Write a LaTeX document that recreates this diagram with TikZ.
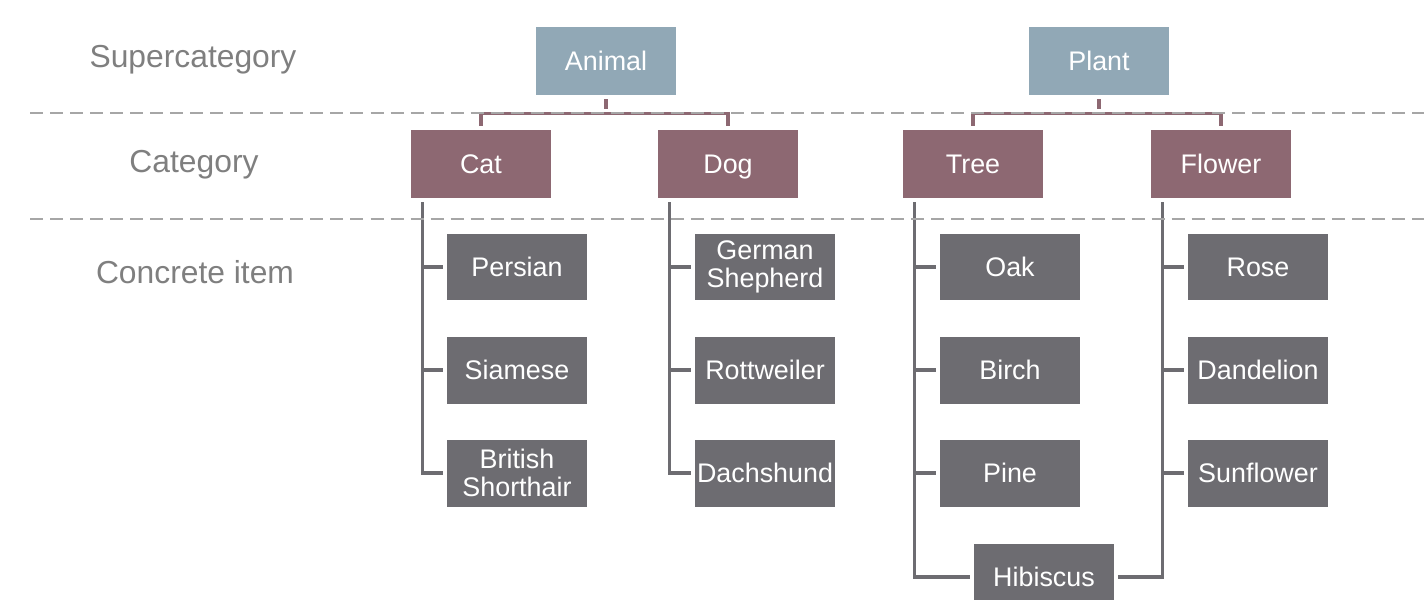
\documentclass[tikz,border=0pt]{standalone}
\usepackage{fontspec}
\setmainfont{Liberation Sans}
\usetikzlibrary{calc}
\definecolor{supercol}{HTML}{91A8B6}
\definecolor{catcol}{HTML}{8D6872}
\definecolor{itemcol}{HTML}{6D6C71}
\definecolor{dashcol}{HTML}{A6A6A6}
\definecolor{levelcol}{HTML}{7F7F7F}

\begin{document}
\begin{tikzpicture}[x=0.02cm,y=0.02cm,
  box/.style={rectangle,minimum width=2.8cm,minimum height=1.36cm,inner sep=0pt,
    text=white,align=center,font=\fontsize{15.3}{16}\selectfont},
  superbox/.style={box,fill=supercol,text height=11pt,text depth=0pt},
  catbox/.style={box,fill=catcol,text height=11pt,text depth=0pt},
  itembox/.style={box,fill=itemcol,minimum height=1.34cm},
  level/.style={anchor=base,text=levelcol,font=\fontsize{18.1}{20}\selectfont},
  bus/.style={draw=catcol,line width=2pt,shorten <=2.3pt,shorten >=2.3pt},
  tie/.style={draw=itemcol,line width=2pt,shorten <=2.3pt,shorten >=2.3pt},
  sep/.style={draw=dashcol,line width=1.5pt,dash pattern=on 7.4pt off 4pt}]
  \useasboundingbox (0,0) rectangle (1424,-599);
  % levels
  \node[level] (lsup) at (193,-67) {Supercategory};
  \node[level] (lcat) at (194,-172) {Category};
  \node[level] (litem) at (195,-283) {Concrete item};
  % supercategories
  \node[superbox] (animal) at (606,-61) {Animal};
  \node[superbox] (plant) at (1099,-61) {Plant};
  % categories
  \node[catbox] (cat) at (481,-164) {Cat};
  \node[catbox] (dog) at (728,-164) {Dog};
  \node[catbox] (tree) at (973,-164) {Tree};
  \node[catbox] (flower) at (1221,-164) {Flower};
  % concrete items
  \node[itembox] (persian) at (517,-267) {Persian};
  \node[itembox] (siamese) at (517,-370) {Siamese};
  \node[itembox] (british) at (517,-473) {British\\Shorthair};
  \node[itembox] (shepherd) at (765,-267) {German\\Shepherd};
  \node[itembox] (rottweiler) at (765,-370) {Rottweiler};
  \node[itembox] (dachshund) at (765,-473) {Dachshund};
  \node[itembox] (oak) at (1010,-267) {Oak};
  \node[itembox] (birch) at (1010,-370) {Birch};
  \node[itembox] (pine) at (1010,-473) {Pine};
  \node[itembox] (rose) at (1258,-267) {Rose};
  \node[itembox] (dandelion) at (1258,-370) {Dandelion};
  \node[itembox] (sunflower) at (1258,-473) {Sunflower};
  \node[itembox] (hibiscus) at (1044,-577) {Hibiscus};
  % super -> category
  \coordinate (abus) at ($(animal.south)+(0,-18)$);
  \coordinate (pbus) at ($(plant.south)+(0,-18)$);
  \draw[bus] (animal.south) -- (abus);
  \draw[bus] (cat.north) |- (abus) -| (dog.north);
  \draw[bus] (plant.south) -- (pbus);
  \draw[bus] (tree.north) |- (pbus) -| (flower.north);
  % category -> items
  \foreach \i in {persian,siamese,british}
    \draw[tie] ($(cat.south west)+(12,0)$) |- (\i.west);
  \foreach \i in {shepherd,rottweiler,dachshund}
    \draw[tie] ($(dog.south west)+(12,0)$) |- (\i.west);
  \foreach \i in {oak,birch,pine,hibiscus}
    \draw[tie] ($(tree.south west)+(12,0)$) |- (\i.west);
  \foreach \i in {rose,dandelion,sunflower}
    \draw[tie] ($(flower.south west)+(12,0)$) |- (\i.west);
  \draw[tie] ($(flower.south west)+(12,0)$) |- (hibiscus.east);
  % level separators
  \draw[sep] (30,-113) -- (1424,-113);
  \draw[sep] (30,-219) -- (1424,-219);
\end{tikzpicture}
\end{document}
